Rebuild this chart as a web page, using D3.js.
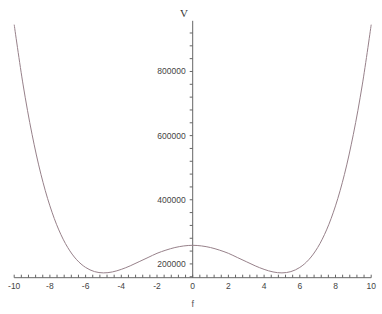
<!DOCTYPE html>
<html>
<head>
<meta charset="utf-8">
<script src="https://cdn.jsdelivr.net/npm/d3@7"></script>
<style>
  body { margin: 0; background: #fff; }
  svg { display: block; }
  .tick text { font-family: "Liberation Sans", Arial, sans-serif; font-size: 8.5px; fill: #444; }
</style>
</head>
<body>
<div id="canvas"></div>
<script>
// values
var fVals = [-10, -9.5, -9, -8.5, -8, -7.5, -7, -6.5, -6, -5.5, -5, -4.5, -4, -3.5, -3, -2.5, -2, -1.5, -1, -0.5,
             0, 0.5, 1, 1.5, 2, 2.5, 3, 3.5, 4, 4.5, 5, 5.5, 6, 6.5, 7, 7.5, 8, 8.5, 9, 9.5, 10];
var vVals = [946000, 758000, 604000, 479000, 381000, 306000, 251000, 213000, 189000, 176000, 172000, 175000, 183000, 194000, 207000, 220000, 233000, 243000, 251000, 256000,
             258000, 256000, 251000, 243000, 233000, 220000, 207000, 194000, 183000, 175000, 172000, 176000, 189000, 213000, 251000, 306000, 381000, 479000, 604000, 758000, 946000];
var xTicks = [-10, -8, -6, -4, -2, 0, 2, 4, 6, 8, 10];
var yTicks = [200000, 400000, 600000, 800000];

var width = 382, height = 314;

var x = d3.scaleLinear().domain([-10, 10]).range([14.2, 371.2]);
var y = d3.scaleLinear().domain([157000, 958000]).range([277.7, 20.8]);

var svg = d3.select("#canvas").append("svg")
    .attr("width", width)
    .attr("height", height);

var axisColor = "#666";

// x axis (ticks pointing up)
var xMinor = d3.range(-10, 10.001, 0.4);
var gx = svg.append("g").attr("transform", "translate(0," + y(157000) + ")");
gx.append("line").attr("x1", x(-10)).attr("x2", x(10)).attr("stroke", axisColor);
gx.selectAll(".minor").data(xMinor).enter().append("line")
    .attr("x1", function(d) { return x(d); }).attr("x2", function(d) { return x(d); })
    .attr("y1", 0).attr("y2", -3).attr("stroke", axisColor);
gx.selectAll(".tick").data(xTicks).enter().append("g")
    .attr("class", "tick")
    .attr("transform", function(d) { return "translate(" + x(d) + ",0)"; })
  .append("text")
    .attr("y", 11)
    .attr("text-anchor", "middle")
    .text(function(d) { return d; });

// y axis (ticks pointing left)
var yMinor = d3.range(160000, 958000, 40000);
var gy = svg.append("g").attr("transform", "translate(" + x(0) + ",0)");
gy.append("line").attr("y1", y(157000)).attr("y2", y(958000)).attr("stroke", axisColor);
gy.selectAll(".minor").data(yMinor).enter().append("line")
    .attr("y1", function(d) { return y(d); }).attr("y2", function(d) { return y(d); })
    .attr("x1", 0).attr("x2", -3).attr("stroke", axisColor);
gy.selectAll(".tick").data(yTicks).enter().append("g")
    .attr("class", "tick")
    .attr("transform", function(d) { return "translate(0," + y(d) + ")"; })
  .append("text")
    .attr("x", -7)
    .attr("dy", "0.35em")
    .attr("text-anchor", "end")
    .text(function(d) { return d; });

// axis titles
svg.append("text")
    .attr("x", 184).attr("y", 17)
    .attr("text-anchor", "middle")
    .style("font-family", "'Liberation Serif', serif")
    .style("font-size", "11px")
    .style("fill", "#333")
    .text("V");

svg.append("text")
    .attr("x", x(0)).attr("y", 307)
    .attr("text-anchor", "middle")
    .style("font-family", "'Liberation Sans', sans-serif")
    .style("font-size", "9px")
    .style("fill", "#555")
    .text("f");

// curve
var line = d3.line()
    .x(function(d, i) { return x(fVals[i]); })
    .y(function(d) { return y(d); })
    .curve(d3.curveCatmullRom);

svg.append("path")
    .datum(vVals)
    .attr("fill", "none")
    .attr("stroke", "#97818a")
    .attr("stroke-width", 1)
    .attr("d", line);
</script>
</body>
</html>
